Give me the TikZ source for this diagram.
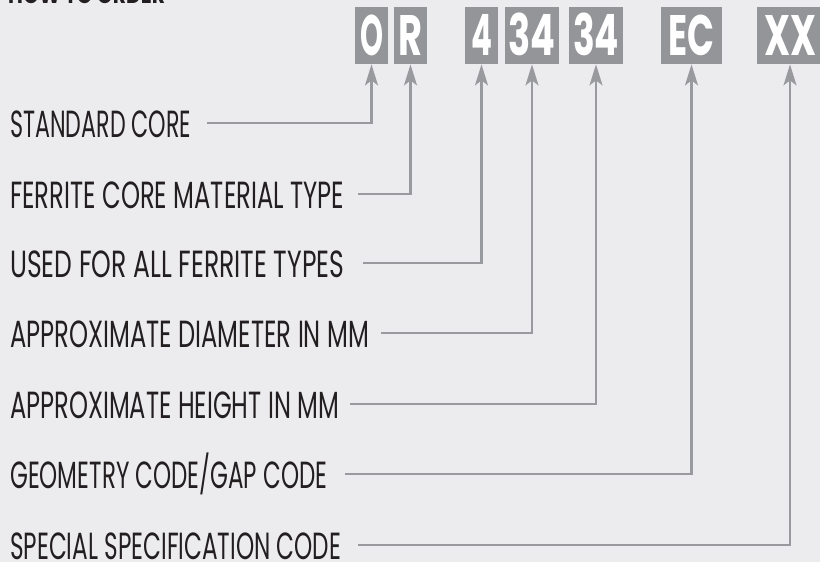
\documentclass[tikz,border=0pt]{standalone}
\usepackage{fontspec}
\usetikzlibrary{arrows.meta}
\newfontfamily\labfont{Poppins}
\newfontfamily\boxfont[UprightFont={* Bold}]{Poppins}
\newfontfamily\titlefont[UprightFont={* Bold}]{Poppins}
\newlength\fitlen
\newcommand\fitw[2]{\settowidth\fitlen{#2}\pgfmathsetmacro\fitf{#1/\fitlen}\scalebox{\fitf}[1]{#2}}
\definecolor{bg}{RGB}{236,236,238}
\definecolor{ink}{RGB}{35,31,32}
\definecolor{boxgray}{RGB}{147,149,152}
\definecolor{linegray}{RGB}{153,154,157}
\tikzset{
  lab/.style={anchor=base west, inner sep=0pt, text=ink, font=\labfont\fontsize{37.8}{40}\selectfont},
  codebox/.style={fill=boxgray, text=white, inner sep=0pt, minimum height=57pt, anchor=north,
    text height=40pt, text depth=0pt, font=\boxfont\fontsize{57}{60}\selectfont},
  conn/.style={draw=linegray, line width=2.2pt, -{Stealth[length=21pt,width=13pt,inset=5pt]}},
}
\begin{document}
\begin{tikzpicture}[x=1pt,y=-1pt]
\useasboundingbox (0,0) rectangle (820,562);
\fill[bg] (0,0) rectangle (820,562);
\node[anchor=base west, inner sep=0pt, text=ink, font=\titlefont\fontsize{24}{26}\selectfont] (title) at (8,3) {\fitw{157pt}{HOW TO ORDER}};
% code boxes
\node[codebox, minimum width=33pt] (b1) at (371.5,7) {\fitw{23pt}{O}};
\node[codebox, minimum width=33pt] (b2) at (410.5,7) {\fitw{24pt}{R}};
\node[codebox, minimum width=33pt] (b3) at (481.5,7) {\fitw{21pt}{4}};
\node[codebox, minimum width=54pt] (b4) at (532,7) {\fitw{47pt}{34}};
\node[codebox, minimum width=54pt] (b5) at (596,7) {\fitw{46pt}{34}};
\node[codebox, minimum width=61pt] (b6) at (691.5,7) {\fitw{46pt}{EC}};
\node[codebox, minimum width=66pt] (b7) at (790,7) {\fitw{52pt}{XX}};
% labels
\node[lab] (l1) at (10,137) {\fitw{181pt}{STANDARD CORE}};
\node[lab] (l2) at (10,208) {\fitw{334pt}{FERRITE CORE MATERIAL TYPE}};
\node[lab] (l3) at (10,277) {\fitw{334pt}{USED FOR ALL FERRITE TYPES}};
\node[lab] (l4) at (10,347) {\fitw{359pt}{APPROXIMATE DIAMETER IN MM}};
\node[lab] (l5) at (10,418) {\fitw{329pt}{APPROXIMATE HEIGHT IN MM}};
\node[lab] (l6) at (10,488) {\fitw{317pt}{GEOMETRY CODE/GAP CODE}};
\node[lab] (l7) at (10,559) {\fitw{331pt}{SPECIAL SPECIFICATION CODE}};
% connectors
\foreach \i/\g in {1/16,2/14,3/19,4/12,5/11,6/18,7/17}{
  \draw[conn] ([xshift=\g pt,yshift=14pt]l\i.base east) -| (b\i.south);
}
\end{tikzpicture}
\end{document}
